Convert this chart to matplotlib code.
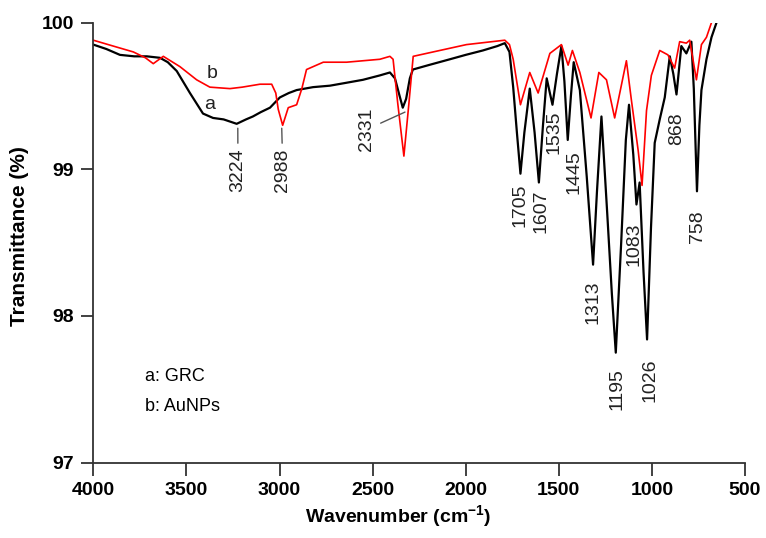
import matplotlib
matplotlib.use("Agg")
import matplotlib.pyplot as plt

plt.rcParams["font.family"] = ["Liberation Sans", "DejaVu Sans"]

# spectrum a: GRC (black)
grc_wn = [4000, 3930, 3857, 3780, 3713, 3642, 3600, 3552, 3481, 3411, 3357, 3300,
          3230, 3180, 3143, 3100, 3051, 2998, 2950, 2908, 2820, 2729, 2640, 2552,
          2461, 2407, 2380, 2355, 2338, 2320, 2300, 2284, 2200, 2085, 2000, 1908,
          1830, 1790, 1765, 1745, 1725, 1706, 1685, 1656, 1630, 1607, 1585, 1565,
          1548, 1534, 1510, 1486, 1470, 1452, 1435, 1420, 1387, 1350, 1316, 1295,
          1271, 1240, 1215, 1194, 1165, 1140, 1123, 1100, 1083, 1066, 1045, 1026,
          1005, 985, 958, 931, 904, 885, 868, 842, 815, 788, 775, 758, 745, 734,
          707, 680, 653]
grc_t = [99.85, 99.82, 99.78, 99.77, 99.77, 99.76, 99.73, 99.67, 99.52, 99.38, 99.35, 99.34,
         99.31, 99.34, 99.36, 99.39, 99.42, 99.49, 99.52, 99.54, 99.56, 99.57, 99.59, 99.61,
         99.64, 99.66, 99.62, 99.50, 99.42, 99.48, 99.62, 99.68, 99.71, 99.75, 99.78, 99.81,
         99.84, 99.86, 99.80, 99.56, 99.25, 98.97, 99.25, 99.55, 99.25, 98.91, 99.30, 99.62,
         99.52, 99.44, 99.65, 99.84, 99.60, 99.20, 99.50, 99.73, 99.54, 98.95, 98.35, 98.85,
         99.36, 98.70, 98.15, 97.75, 98.50, 99.20, 99.44, 99.10, 98.76, 98.91, 98.30, 97.84,
         98.60, 99.18, 99.34, 99.49, 99.77, 99.65, 99.51, 99.84, 99.79, 99.87, 99.55, 98.85,
         99.30, 99.54, 99.75, 99.90, 100.00]

# spectrum b: AuNPs (red)
aunp_wn = [4000, 3893, 3785, 3720, 3678, 3624, 3535, 3445, 3374, 3266, 3200, 3105,
           3042, 3020, 3007, 2983, 2953, 2908, 2880, 2855, 2765, 2640, 2461, 2407,
           2390, 2365, 2332, 2305, 2282, 2175, 1996, 1790, 1765, 1745, 1706, 1656,
           1611, 1548, 1486, 1450, 1427, 1387, 1327, 1285, 1244, 1200, 1137, 1110,
           1074, 1053, 1029, 1003, 958, 914, 878, 851, 815, 797, 761, 734, 707, 680]
aunp_t = [99.88, 99.84, 99.80, 99.76, 99.72, 99.77, 99.70, 99.61, 99.56, 99.55, 99.56, 99.58,
          99.58, 99.52, 99.41, 99.30, 99.42, 99.44, 99.55, 99.68, 99.73, 99.73, 99.75, 99.77,
          99.75, 99.45, 99.09, 99.45, 99.77, 99.80, 99.85, 99.88, 99.85, 99.75, 99.44, 99.66,
          99.52, 99.79, 99.85, 99.71, 99.81, 99.66, 99.35, 99.66, 99.61, 99.35, 99.74, 99.47,
          99.13, 98.89, 99.40, 99.64, 99.81, 99.78, 99.69, 99.87, 99.86, 99.88, 99.61, 99.85,
          99.90, 100.00]

# peak labels: text, label x, label top y
peak_labels = ["3224", "2988", "2331", "1705", "1607", "1535", "1445",
               "1313", "1195", "1083", "1026", "868", "758"]
label_x = [3223, 2982, 2531, 1709, 1597, 1527, 1420, 1314, 1190, 1097, 1011, 866, 753]
label_top = [99.14, 99.14, 99.42, 98.90, 98.86, 99.40, 99.13, 98.24, 97.645, 98.64,
             97.71, 99.39, 98.72]
# leader lines only for these: label -> point on curve
leaders = {"3224": (3224, 99.28), "2988": (2988, 99.28), "2331": (2326, 99.39)}

fig = plt.figure(figsize=(7.66, 5.38), dpi=100)
ax = fig.add_axes([0.1218, 0.140, 0.8508, 0.818])

ax.plot(grc_wn, grc_t, color="black", linewidth=1.6)
ax.plot(aunp_wn, aunp_t, color="#ff0000", linewidth=1.2)

for lab, lx, ly in zip(peak_labels, label_x, label_top):
    if lab in leaders:
        ax.annotate(lab, xy=leaders[lab], xytext=(lx, ly), rotation=90,
                    ha="center", va="top", fontsize=14, color="#222222",
                    arrowprops=dict(arrowstyle="-", color="#555555", lw=1.0,
                                    shrinkA=2, shrinkB=0))
    else:
        ax.text(lx, ly, lab, rotation=90, ha="center", va="top",
                fontsize=14, color="#222222")

ax.text(3363, 99.655, "b", fontsize=14, ha="center", va="center", color="#222222")
ax.text(3374, 99.44, "a", fontsize=14, ha="center", va="center", color="#222222")
ax.text(0.079, 0.195, "a: GRC", transform=ax.transAxes, fontsize=13, va="center")
ax.text(0.079, 0.127, "b: AuNPs", transform=ax.transAxes, fontsize=13, va="center")

ax.set_xlim(4000, 500)
ax.set_ylim(97, 100)
ax.set_xticks([4000, 3500, 3000, 2500, 2000, 1500, 1000, 500])
ax.set_yticks([97, 98, 99, 100])
ax.spines["top"].set_visible(False)
ax.spines["right"].set_visible(False)
for s in ["left", "bottom"]:
    ax.spines[s].set_linewidth(1.3)
    ax.spines[s].set_color("#333333")
ax.tick_params(direction="out", length=9, width=1.3, color="#333333",
               labelsize=14, pad=5)
for t in ax.get_xticklabels() + ax.get_yticklabels():
    t.set_fontweight("bold")

ax.set_xlabel("Wavenumber (cm$^{\\mathregular{-1}}$)", fontsize=14, fontweight="bold")
ax.set_ylabel("Transmittance (%)", fontsize=15, fontweight="bold")
ax.xaxis.set_label_coords(0.468, -0.093)
ax.yaxis.set_label_coords(-0.098, 0.514)

fig.savefig("out.png", dpi=100)
